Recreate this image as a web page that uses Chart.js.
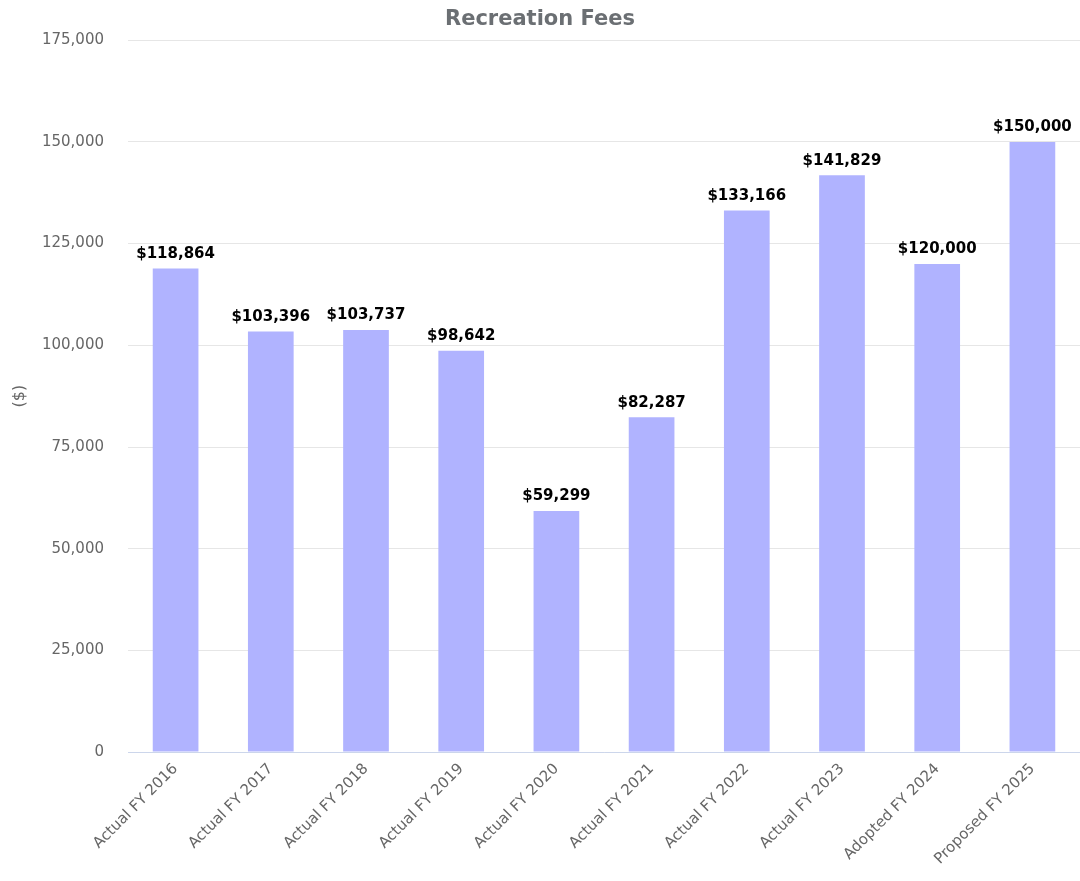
<!DOCTYPE html>
<html>
<head>
<meta charset="utf-8">
<script src="https://cdn.jsdelivr.net/npm/chart.js@4/dist/chart.umd.min.js"></script>
<style>
  html, body { margin: 0; padding: 0; background: #fff; }
  #wrap { width: 1080px; height: 881px; position: relative; }
</style>
</head>
<body>
<div id="wrap"><canvas id="myChart"></canvas></div>
<script>
var categories = ["Actual FY 2016", "Actual FY 2017", "Actual FY 2018", "Actual FY 2019",
  "Actual FY 2020", "Actual FY 2021", "Actual FY 2022", "Actual FY 2023",
  "Adopted FY 2024", "Proposed FY 2025"];
var fees = [118864, 103396, 103737, 98642, 59299, 82287, 133166, 141829, 120000, 150000];
var yTicks = [0, 25000, 50000, 75000, 100000, 125000, 150000, 175000];

var fontFamily = "'DejaVu Sans', 'Noto Sans', sans-serif";

// draws the "$118,864" labels above each bar
var barLabels = {
  id: "barLabels",
  afterDatasetsDraw: function (chart) {
    var ctx = chart.ctx;
    var meta = chart.getDatasetMeta(0);
    ctx.save();
    ctx.font = "bold 15px " + fontFamily;
    ctx.fillStyle = "#000";
    ctx.textAlign = "center";
    ctx.textBaseline = "bottom";
    meta.data.forEach(function (bar, i) {
      ctx.fillText("$" + fees[i].toLocaleString("en-US"), bar.x, bar.y - 7);
    });
    ctx.restore();
  }
};

var myChart = document.getElementById("myChart").getContext("2d");
var chart = new Chart(myChart, {
  type: "bar",
  data: {
    labels: categories,
    datasets: [
      {
        label: "Recreation Fees",
        data: fees,
        backgroundColor: "#b0b3ff",
        borderWidth: 0,
        categoryPercentage: 1,
        barPercentage: 0.48
      }
    ]
  },
  options: {
    responsive: true,
    maintainAspectRatio: false,
    animation: false,
    layout: { padding: { top: 0, right: 0, left: 0, bottom: 5 } },
    plugins: {
      legend: { display: false },
      tooltip: { enabled: false },
      title: {
        display: true,
        text: "Recreation Fees",
        color: "#6b6f73",
        font: { family: fontFamily, size: 21, weight: "bold" },
        padding: { top: 7, bottom: 8 }
      }
    },
    scales: {
      x: {
        grid: { display: false, drawTicks: false },
        border: { color: "#ccd6eb", width: 1 },
        ticks: {
          color: "#666",
          font: { family: fontFamily, size: 15 },
          minRotation: 45,
          maxRotation: 45,
          padding: 8,
          autoSkip: false
        }
      },
      y: {
        min: 0,
        max: 175000,
        afterBuildTicks: function (axis) {
          axis.ticks = yTicks.map(function (v) { return { value: v }; });
        },
        afterFit: function (axis) {
          axis.width = 128;
        },
        grid: { color: "#e6e6e6", drawTicks: false },
        border: { display: false },
        ticks: {
          color: "#666",
          font: { family: fontFamily, size: 15 },
          padding: 24,
          callback: function (v) { return v.toLocaleString("en-US"); }
        },
        title: {
          display: true,
          text: "($)",
          color: "#666",
          font: { family: fontFamily, size: 16 },
          padding: { top: 10, bottom: 4 }
        }
      }
    }
  },
  plugins: [barLabels]
});
</script>
</body>
</html>
